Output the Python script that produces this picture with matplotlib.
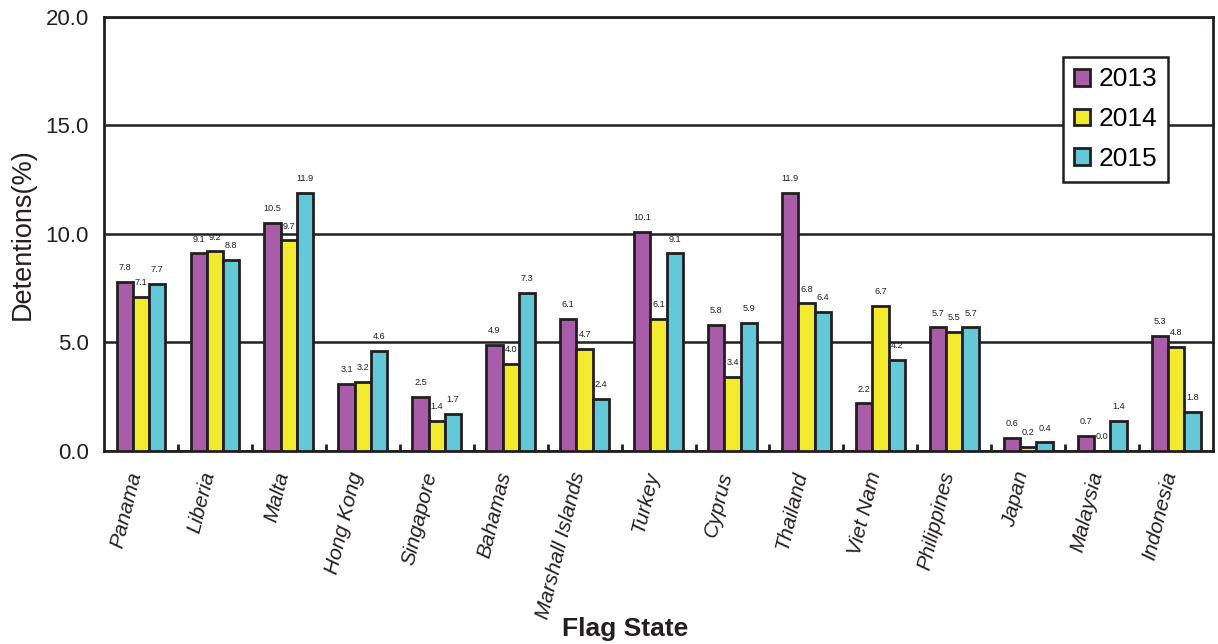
import numpy as np
import matplotlib.pyplot as plt

plt.rcParams['font.family'] = ['Liberation Sans', 'DejaVu Sans']

flag_states = ['Panama', 'Liberia', 'Malta', 'Hong Kong', 'Singapore', 'Bahamas',
               'Marshall Islands', 'Turkey', 'Cyprus', 'Thailand', 'Viet Nam',
               'Philippines', 'Japan', 'Malaysia', 'Indonesia']
rate_2013 = [7.8, 9.1, 10.5, 3.1, 2.5, 4.9, 6.1, 10.1, 5.8, 11.9, 2.2, 5.7, 0.6, 0.7, 5.3]
rate_2014 = [7.1, 9.2, 9.7, 3.2, 1.4, 4.0, 4.7, 6.1, 3.4, 6.8, 6.7, 5.5, 0.2, 0.0, 4.8]
rate_2015 = [7.7, 8.8, 11.9, 4.6, 1.7, 7.3, 2.4, 9.1, 5.9, 6.4, 4.2, 5.7, 0.4, 1.4, 1.8]
years = ['2013', '2014', '2015']
colors = ['#A95DA8', '#F2EA2E', '#63C9D8']
ink = '#231F20'

fig = plt.figure(figsize=(12.18, 6.44), dpi=100)
ax = fig.add_axes([0.0854, 0.2997, 0.9106, 0.674])

x = np.arange(len(flag_states))
width = 0.22
for i, (vals, year, col) in enumerate(zip([rate_2013, rate_2014, rate_2015], years, colors)):
    pos = x + (i - 1) * width
    ax.bar(pos, vals, width, color=col, edgecolor=ink, linewidth=2,
           label=year, zorder=3)
    for px, v in zip(pos, vals):
        ax.annotate('%.1f' % v, (px, v), xytext=(0, 7), textcoords='offset points',
                    ha='center', va='bottom', fontsize=6.6, color=ink, zorder=4)

ax.set_xlim(-0.5, len(flag_states) - 0.5)
ax.set_ylim(0, 20)
ax.set_yticks([0, 5, 10, 15, 20])
ax.set_yticklabels(['%.1f' % t for t in [0, 5, 10, 15, 20]], fontsize=16, color=ink)
ax.yaxis.grid(True, color=ink, linewidth=1.8, zorder=0)
ax.tick_params(axis='y', length=0, pad=11)

# category labels at centres, short tick marks at group boundaries
ax.set_xticks(x)
ax.set_xticklabels(flag_states, rotation=76, ha='right', va='baseline',
                   rotation_mode='anchor', fontsize=15, style='italic', color=ink)
ax.tick_params(axis='x', length=0, pad=16)
ax.set_xticks(np.arange(0.5, len(flag_states) - 0.5), minor=True)
ax.tick_params(axis='x', which='minor', direction='in', length=5, width=2,
               color=ink)

for s in ax.spines.values():
    s.set_linewidth(2)
    s.set_color(ink)

ax.set_ylabel('Detentions(%)', fontsize=19.5, color=ink)
ax.yaxis.set_label_coords(-0.062, 0.5)
ax.set_xlabel('Flag State', fontsize=19, fontweight='bold', color=ink, va='top')
ax.xaxis.set_label_coords(0.47, -0.382)

leg = ax.legend(loc='upper left', bbox_to_anchor=(0.865, 0.908), fontsize=19,
                frameon=True, fancybox=False, handlelength=0.6, handleheight=0.6,
                handletextpad=0.35, labelspacing=0.6, borderpad=0.4, borderaxespad=0)
leg.get_frame().set_edgecolor(ink)
leg.get_frame().set_linewidth(1.8)
leg.get_frame().set_alpha(1)
leg.set_zorder(5)

fig.savefig('out.png', dpi=100)
